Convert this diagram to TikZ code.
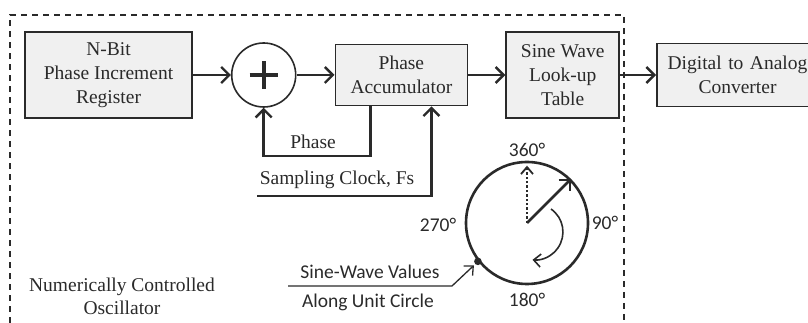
\documentclass[tikz,border=0pt]{standalone}
\usepackage{fontspec}
\setmainfont{Liberation Serif}
\newfontfamily\labelfont{Carlito}
\usetikzlibrary{arrows.meta}
\usetikzlibrary{positioning}
\definecolor{boxfill}{HTML}{F0F0F0}
\definecolor{ink}{HTML}{2A2A2A}
\tikzset{
  block/.style={draw=ink, line width=1.8pt, fill=boxfill, align=center,
    text=ink, inner sep=0pt, font=\fontsize{19.5}{24}\selectfont},
  flow/.style={draw=ink, line width=2.7pt,
    -{Straight Barb[length=8pt,width=16pt,line width=2.4pt]}},
  serif/.style={text=ink, align=center, font=\fontsize{19.5}{23}\selectfont},
  sans/.style={text=ink, align=center, font=\labelfont\fontsize{19.5}{23}\selectfont},
}
\begin{document}
\begin{tikzpicture}[x=1pt, y=1pt]
    \useasboundingbox (0,0) rectangle (808,323);
    \clip (0,0) rectangle (808,323);

    \draw[ink, line width=1.6pt, dash pattern=on 6pt off 5pt]
      (10,0) -- (10,308) -- (624,308) -- (624,0);

    \node[block, minimum width=167pt, minimum height=86pt] (nbit) at (108.5,248)
      {N-Bit\\Phase Increment\\Register};
    \node[circle, draw=ink, line width=1.6pt, fill=white, minimum size=64pt,
      inner sep=0pt] [right=38pt of nbit] (sum) {};
    \draw[ink, line width=3.6pt] ([xshift=-14pt]sum.center) -- ([xshift=14pt]sum.center)
      ([yshift=-14pt]sum.center) -- ([yshift=14pt]sum.center);
    \node[block, minimum width=132pt, minimum height=61pt]
      [right=38pt of sum] (acc) {Phase\\Accumulator};
    \node[block, minimum width=113pt, minimum height=86pt]
      [right=37pt of acc] (lut) {Sine Wave\\Look-up\\Table};
    \node[block, minimum width=161pt, minimum height=63pt, text width=161pt]
      [right=36pt of lut] (dac) {Digital to Analog\\Converter};

    \draw[flow] (nbit) -- (sum);
    \draw[flow] (sum) -- (acc);
    \draw[flow] (acc) -- (lut);
    \draw[flow] (lut) -- (dac);

    \coordinate (fbtop) at ([xshift=-31pt]acc.south);
    \coordinate (fbend) at (fbtop |- 0,167);
    \draw[flow] (fbtop) -- (fbend) -| (sum.south);
    \node[serif] (phase) at (313,181) {Phase};

    \coordinate (clkin) at (257,127);
    \coordinate (clkup) at ([xshift=30pt]acc.south);
    \draw[flow] (clkin) -| (clkup);
    \node[serif] (clk) at (337,143) {Sampling Clock, Fs};

    \node[circle, draw=ink, line width=2.6pt, minimum size=122pt, inner sep=0pt]
      (unit) at (527,100) {};
    \coordinate (ctr) at (unit.center);
    \draw[ink, line width=2.4pt, dotted,
      -{Straight Barb[length=7pt,width=12pt,line width=1.8pt]}]
      (ctr) -- ([yshift=-5pt]unit.north);
    \draw[flow] (ctr) -- (unit.45);
    \draw[ink, line width=1.6pt,
      -{Straight Barb[length=7pt,width=13pt,line width=1.6pt]}]
      (551,114) arc[start angle=55, end angle=-95, radius=28];
    \fill[ink] (unit.218) circle (3.8pt);

    \node[sans] (d360) at (527,173) {360°};
    \node[sans] (d90) at (605,100) {90°};
    \node[sans] (d180) at (527,23) {180°};
    \node[sans] (d270) at (438,98) {270°};

    \coordinate (ptr) at (288,37);
    \coordinate (ptrk) at (452,37);
    \draw[ink, line width=1.3pt,
      -{Straight Barb[length=7pt,width=13pt,line width=1.3pt]}]
      (ptr) -- (ptrk) -- ([shift={(-4pt,-4pt)}]unit.218);
    \node[sans] (sv) at (370,51) {Sine-Wave Values};
    \node[sans] (auc) at (368,21) {Along Unit Circle};

    \node[serif] (nco) at (122,27) {Numerically Controlled\\Oscillator};
  \end{tikzpicture}
\end{document}
